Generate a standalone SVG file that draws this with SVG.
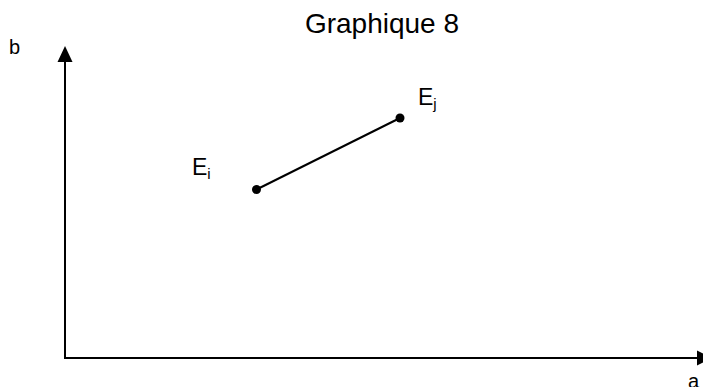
<svg xmlns="http://www.w3.org/2000/svg" width="703" height="387" viewBox="0 0 703 387">
<defs>
<style>
text{font-family:"Liberation Sans",Arial,sans-serif;fill:#000}
.ax{stroke:#000;stroke-width:2;fill:none}
.ln{stroke:#000;stroke-width:2;fill:none}
</style>
</defs>
<rect width="703" height="387" fill="#fff"/>
<text x="382" y="33" font-size="28" text-anchor="middle">Graphique 8</text>
<g id="axes">
<path d="M65,358 L65,55" class="ax"/>
<path d="M65,62 L57.5,62 L65,46 L72.5,62 Z" fill="#000"/>
<path d="M64,358 L700,358" class="ax"/>
<path d="M697,350.5 L712,358 L697,365.5 Z" fill="#000"/>
<text x="9" y="54" font-size="20">b</text>
<text x="688" y="388" font-size="20">a</text>
</g>
<g id="connectors">
<line x1="256.5" y1="189.5" x2="400" y2="118" class="ln"/>
</g>
<g id="Ei">
<circle cx="256.5" cy="189.5" r="4.5" fill="#000"/>
<text x="192" y="175" font-size="23">E<tspan font-size="15" dy="4">i</tspan></text>
</g>
<g id="Ej">
<circle cx="400" cy="118" r="4.5" fill="#000"/>
<text x="418" y="105" font-size="23">E<tspan font-size="15" dy="4">j</tspan></text>
</g>
</svg>
